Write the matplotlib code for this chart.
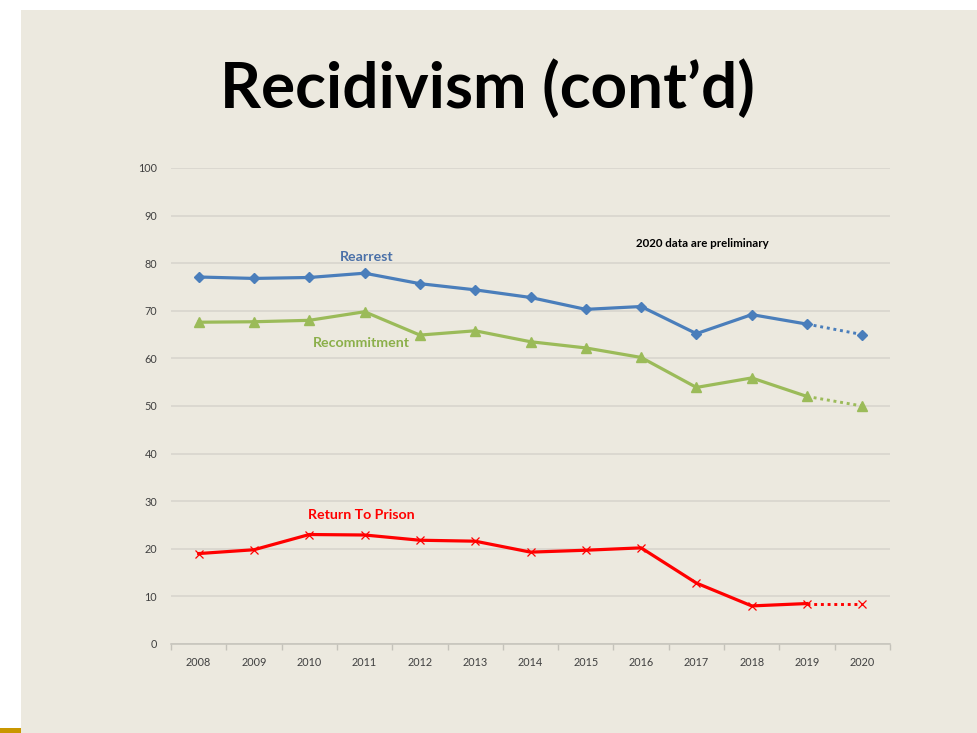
import matplotlib.pyplot as plt
from matplotlib.patches import Rectangle

years = [2008, 2009, 2010, 2011, 2012, 2013, 2014, 2015, 2016, 2017, 2018, 2019, 2020]
rearrest = [77.1, 76.8, 77.0, 77.9, 75.7, 74.4, 72.8, 70.3, 70.9, 65.2, 69.2, 67.2, 65.0]
recommitment = [67.6, 67.7, 68.0, 69.8, 64.9, 65.8, 63.5, 62.2, 60.2, 53.9, 55.9, 52.0, 50.0]
return_prison = [19.0, 19.8, 23.0, 22.9, 21.8, 21.6, 19.3, 19.7, 20.2, 12.8, 8.0, 8.5, 8.5]
y_ticks = [0, 10, 20, 30, 40, 50, 60, 70, 80, 90, 100]

BG = '#ECE9DF'
BLUE = '#4A7EBB'
GREEN = '#9BBB59'
RED = '#FF0000'

plt.rcParams['font.family'] = ['Lato', 'DejaVu Sans']

W, H = 977, 733
fig = plt.figure(figsize=(W / 100, H / 100), dpi=100)
fig.patch.set_facecolor('white')

# fond de la diapo + petit repère doré en bas à gauche
bg = fig.add_axes([0, 0, 1, 1], zorder=-10)
bg.set_xlim(0, W)
bg.set_ylim(H, 0)
bg.axis('off')
bg.add_patch(Rectangle((21, 10), W - 21, H - 10, facecolor=BG, edgecolor='none'))
bg.add_patch(Rectangle((0, H - 5), 21, 5, facecolor='#C99700', edgecolor='none'))

fig.text(487 / W, 1 - 88 / H, 'Recidivism (cont\u2019d)', fontsize=46, fontweight='bold',
         ha='center', va='center', color='black')

# zone du graphique : x de 171 à 890 px, y de 168 (100) à 644 (0)
ax = fig.add_axes([171 / W, 1 - 644 / H, (890 - 171) / W, (644 - 168) / H])
ax.set_facecolor('none')

x = list(range(len(years)))
n = len(years)


def draw_series(vals, color, marker, ms, mew=1.0):
    # trait plein jusqu'en 2019, pointillé vers 2020 (données provisoires)
    ax.plot(x[:n - 1], vals[:n - 1], color=color, lw=2.3, marker=marker, ms=ms,
            mew=mew, mec=color, mfc=color, zorder=3)
    ax.plot(x[n - 2:], vals[n - 2:], color=color, lw=2.1, ls=(0, (1, 1.3)), zorder=3)
    ax.plot(x[n - 1:], vals[n - 1:], color=color, lw=0, marker=marker, ms=ms,
            mew=mew, mec=color, mfc=color, zorder=3)


draw_series(rearrest, BLUE, 'D', 5)
draw_series(recommitment, GREEN, '^', 6.5)
draw_series(return_prison, RED, 'x', 6, mew=0.9)

ax.set_xlim(-0.5, n - 0.5)
ax.set_ylim(0, 100)
ax.set_yticks(y_ticks)
ax.set_yticklabels([str(v) for v in y_ticks])
ax.set_xticks(x)
ax.set_xticklabels([str(y) for y in years])
ax.set_xticks([i + 0.5 for i in range(-1, n)], minor=True)

ax.grid(axis='y', color='#D6D4CC', lw=1.1)
ax.set_axisbelow(True)
for s in ['top', 'right', 'left']:
    ax.spines[s].set_visible(False)
ax.spines['bottom'].set_color('#C4C2BA')
ax.spines['bottom'].set_linewidth(1.1)
ax.tick_params(axis='y', length=0, pad=10, labelsize=7.8, labelcolor='#404040')
ax.tick_params(axis='x', which='major', length=0, pad=9, labelsize=7.8, labelcolor='#404040')
ax.tick_params(axis='x', which='minor', length=4, color='#C4C2BA', width=1)

ax.text(3.03, 81.4, 'Rearrest', color='#4A70A8', fontsize=10.2, fontweight='bold', ha='center', va='center')
ax.text(2.95, 63.2, 'Recommitment', color='#8BAF4A', fontsize=10.2, fontweight='bold', ha='center', va='center')
ax.text(2.95, 27.2, 'Return To Prison', color=RED, fontsize=10.2, fontweight='bold', ha='center', va='center')
ax.text(9.1, 84.1, '2020 data are preliminary', color='black', fontsize=8.3, fontweight='bold', ha='center', va='center')

fig.savefig('out.png', dpi=100, facecolor=fig.get_facecolor())
